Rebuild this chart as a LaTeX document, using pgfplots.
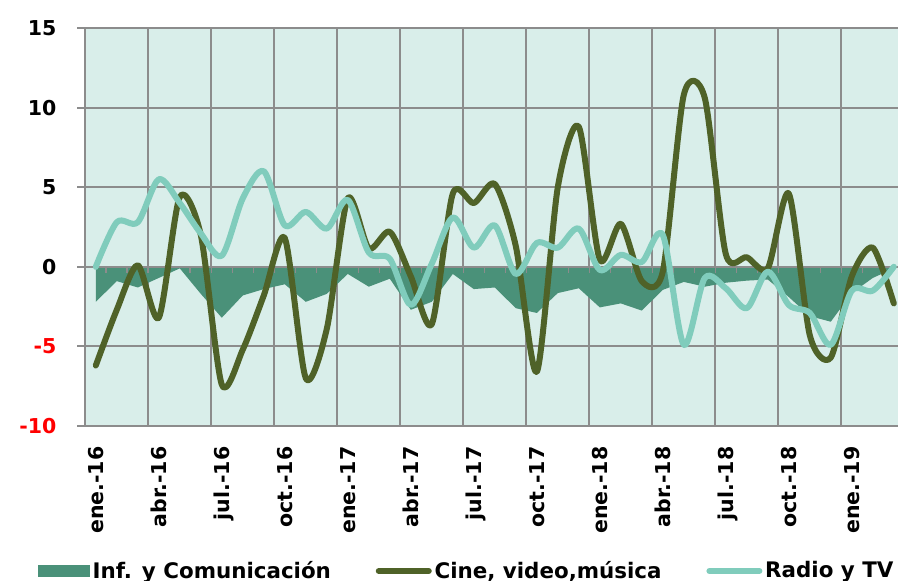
\documentclass[border=0pt]{standalone}
\usepackage{pgfplots}
\usepackage{pgfplotstable}
\pgfplotsset{compat=1.18}
\usepackage{fontspec}
\setmainfont{DejaVu Sans}
\definecolor{bgmint}{HTML}{D9EEEA}
\definecolor{areacol}{HTML}{4A9179}
\definecolor{cinecol}{HTML}{4F6228}
\definecolor{radiocol}{HTML}{80CCBC}
\definecolor{gridgray}{HTML}{8C8C8C}

\pgfplotstableread{
i inf cine radio
0 -2.2 -6.2 0.0
1 -0.9 -2.7 2.8
2 -1.3 0.1 2.8
3 -0.7 -3.2 5.5
4 -0.1 4.4 4.0
5 -1.7 2.0 2.1
6 -3.2 -7.4 0.7
7 -1.8 -5.2 4.3
8 -1.4 -1.8 6.0
9 -1.1 1.8 2.6
10 -2.2 -7.0 3.45
11 -1.7 -3.9 2.4
12 -0.45 4.3 4.2
13 -1.25 1.15 0.9
14 -0.75 2.2 0.5
15 -2.7 -0.6 -2.4
16 -2.2 -3.6 0.2
17 -0.45 4.6 3.1
18 -1.4 4.0 1.2
19 -1.3 5.2 2.6
20 -2.6 1.3 -0.45
21 -2.9 -6.6 1.5
22 -1.65 5.0 1.2
23 -1.35 8.8 2.4
24 -2.55 0.45 -0.2
25 -2.3 2.7 0.75
26 -2.75 -0.9 0.3
27 -1.45 -0.3 2.0
28 -0.95 10.8 -4.9
29 -1.25 10.6 -0.7
30 -1.0 0.8 -1.35
31 -0.87 0.6 -2.6
32 -0.8 -0.1 -0.3
33 -1.9 4.6 -2.4
34 -3.1 -4.3 -2.9
35 -3.45 -5.7 -4.9
36 -1.65 -0.6 -1.5
37 -0.7 1.2 -1.5
38 -0.1 -2.3 0.0
}\datatable

\begin{document}
\begin{tikzpicture}
\begin{axis}[
  at={(42.65pt,77.5pt)}, anchor=south west,
  scale only axis, width=409.5pt, height=199pt,
  xmin=-0.5, xmax=38.5, ymin=-10, ymax=15,
  ytick={-10,-5,0,5,10,15},
  yticklabels={\textcolor{red}{-10},\textcolor{red}{-5},0,5,10,15},
  xtick={0,3,...,36},
  xticklabels={ene.-16,abr.-16,jul.-16,oct.-16,ene.-17,abr.-17,jul.-17,oct.-17,ene.-18,abr.-18,jul.-18,oct.-18,ene.-19},
  extra x ticks={2.5,5.5,...,35.5},
  extra x tick labels={},
  extra x tick style={grid=major},
  ymajorgrids,
  grid style={gridgray, line width=1pt},
  axis line style={gridgray, line width=1pt},
  axis background/.style={fill=bgmint},
  xtick style={draw=none},
  ytick style={gridgray, line width=1pt},
  ytick pos=left, tick align=outside, major tick length=4pt,
  ticklabel style={font=\bfseries\fontsize{10.25}{12}\selectfont},
  xticklabel style={rotate=90, anchor=east, inner sep=0pt, text height=7.5pt, text depth=0pt},
  yticklabel style={anchor=east, inner sep=0pt},
  xticklabel shift=6.1pt,
  yticklabel shift=10.3pt,
  legend style={at={(axis description cs:0.4661,-0.3643)}, anchor=center,
    draw=none, fill=none, legend columns=3, inner sep=0pt,
    font=\bfseries\fontsize{10.7}{13}\selectfont,
    nodes={inner sep=1.4pt},
    /tikz/every even column/.append style={column sep=21pt}},
  legend cell align=left,
]
\addplot[fill=areacol, draw=none,
  legend image code/.code={\fill[areacol] (0pt,-3pt) rectangle (26pt,3pt);}]
  table[x=i,y=inf]{\datatable} \closedcycle;
\addlegendentry{Inf. y Comunicación}
\draw[gridgray, line width=1pt] (axis cs:-0.5,0) -- (axis cs:38.5,0);
\pgfplotsinvokeforeach{0.5,1.5,...,37.5}{
  \draw[gridgray, line width=0.8pt] (axis cs:#1,0) -- ([yshift=-3pt]axis cs:#1,0);
}
\addplot[cinecol, line width=3pt, smooth, tension=0.45, line cap=round, line join=round,
  legend image code/.code={\draw[cinecol, line width=3pt, line cap=round] (0pt,0pt) -- (25pt,0pt);}]
  table[x=i,y=cine]{\datatable};
\addlegendentry{Cine, video,música}
\addplot[radiocol, line width=3pt, smooth, line cap=round, line join=round,
  legend image code/.code={\draw[radiocol, line width=3pt, line cap=round] (0pt,0pt) -- (25pt,0pt);}]
  table[x=i,y=radio]{\datatable};
\addlegendentry{Radio y TV}
\end{axis}
\pgfresetboundingbox
\useasboundingbox (0,0) rectangle (449pt,290.5pt);
\end{tikzpicture}
\end{document}
